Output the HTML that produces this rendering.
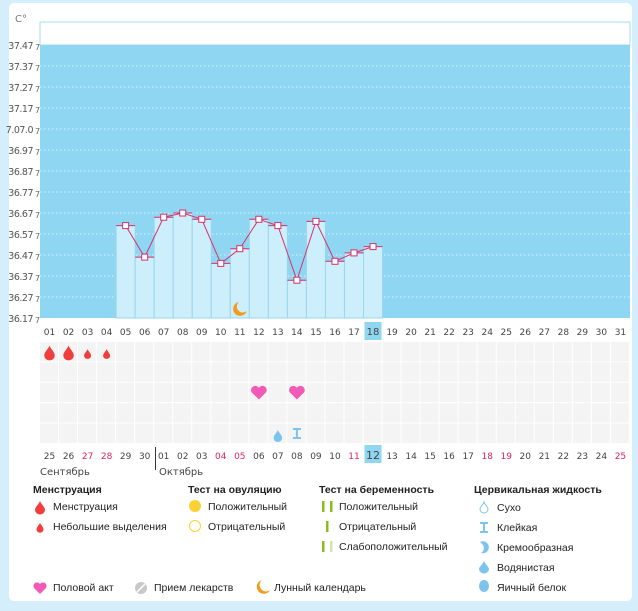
<!DOCTYPE html>
<html><head><meta charset="utf-8">
<style>
html,body{margin:0;padding:0;background:#d4effb;}
body{width:638px;height:606px;overflow:hidden;font-family:"Liberation Sans","DejaVu Sans",sans-serif;}
svg text{font-family:"DejaVu Sans","Liberation Sans",sans-serif;}
#legend text{font-family:"Liberation Sans","DejaVu Sans",sans-serif;}
</style></head>
<body>
<svg id="chart" width="638" height="606" viewBox="0 0 638 606" xmlns="http://www.w3.org/2000/svg">
<rect x="9" y="3" width="623" height="598" rx="5" fill="#ffffff"/>
<g id="g"></g>
</svg>
<script>
const days = ["01","02","03","04","05","06","07","08","09","10","11","12","13","14","15","16","17","18","19","20","21","22","23","24","25","26","27","28","29","30","31"];
const tempDays = [5,6,7,8,9,10,11,12,13,14,15,16,17,18];
const temps = [36.61,36.46,36.65,36.67,36.64,36.43,36.50,36.64,36.61,36.35,36.63,36.44,36.48,36.51];
const yTicks = [37.47,37.37,37.27,37.17,37.07,36.97,36.87,36.77,36.67,36.57,36.47,36.37,36.27,36.17];
const yTickLabels = ["37.47","37.37","37.27","37.17","7.07.0","36.97","36.87","36.77","36.67","36.57","36.47","36.37","36.27","36.17"];
const dates = ["25","26","27","28","29","30","01","02","03","04","05","06","07","08","09","10","11","12","13","14","15","16","17","18","19","20","21","22","23","24","25"];
const redDates = [2,3,9,10,16,23,24,30];
const currentDay = 18;
const bigDrops = [1,2];
const smallDrops = [3,4];
const hearts = [12,14];
const moonDays = [11];
const wateryDays = [13];
const stickyDays = [14];

const NS="http://www.w3.org/2000/svg";
const g=document.getElementById('g');
const X0=40,CW=19.03,YMIN=36.17,YMAX=37.47,YB=318,YT=45;
const xC=d=>X0+CW*(d-0.5);
const y=v=>YB-(v-YMIN)/(YMAX-YMIN)*(YB-YT);
function mk(t,a,p){const e=document.createElementNS(NS,t);for(const k in a)e.setAttribute(k,a[k]);(p||g).appendChild(e);return e;}

let e=mk('rect',{x:X0,y:22,width:590,height:23,fill:'#fff',stroke:'#a6dcf2'});


e=mk('rect',{x:X0,y:YT,width:590,height:YB-YT,fill:'#8fd6f2'});


e=mk('text',{x:15,y:22,'font-size':10,fill:'#777'});e.textContent='C°';


yTicks.forEach((v,i)=>{
  if(i>0&&i<yTicks.length-1){const l=mk('line',{x1:X0,x2:630,y1:y(v),y2:y(v),stroke:'#d6f1fb','stroke-dasharray':'1.5,2.5','stroke-width':1});
  
  }
  const t=mk('text',{x:33,y:y(v)+4,'font-size':9.5,fill:'#555','text-anchor':'end','letter-spacing':'-0.5'});t.textContent=yTickLabels[i];
  
  
  const s=mk('text',{x:35,y:y(v)+5,'font-size':8,fill:'#666'});s.textContent='7';
  
  
});
tempDays.forEach((d,i)=>{
  const b=mk('rect',{x:X0+CW*(d-1),y:y(temps[i]),width:CW,height:YB-y(temps[i]),fill:'#cdeefb',stroke:'#99d6ef','stroke-width':1});
  
  
});
const pts=tempDays.map((d,i)=>xC(d)+','+y(temps[i])).join(' ');
e=mk('polyline',{points:pts,fill:'none',stroke:'#d6336c','stroke-width':1});


tempDays.forEach((d,i)=>{
  const h=mk('line',{x1:X0+CW*(d-1),x2:X0+CW*d,y1:y(temps[i]),y2:y(temps[i]),stroke:'#d6336c','stroke-width':1});
  
  
  const m=mk('rect',{x:xC(d)-3,y:y(temps[i])-3,width:6,height:6,fill:'#fff',stroke:'#d6336c','stroke-width':1});
  
  
});
moonDays.forEach(d=>{
  const m=mk('path',{d:`M${xC(d)-1},${302} a7,7 0 1 0 8,9 a6,6 0 0 1 -8,-9z`,fill:'#f39a1b'});
  
  
});
days.forEach((s,i)=>{
  const d=i+1;
  if(d===currentDay){const r=mk('rect',{x:X0+CW*i+1,y:322,width:CW-2,height:18,fill:'#8fd6f2'});
    
    }
  const t=mk('text',{x:xC(d),y:335,'font-size':d===currentDay?10:9,fill:'#444','text-anchor':'middle'});t.textContent=s;
  
  
});
for(let r=0;r<5;r++)for(let c=0;c<31;c++){
  const cell=mk('rect',{x:X0+CW*c,y:342+r*20.4,width:CW-1,height:19.4,fill:'#f4f4f4'});
  
  
}
function drop(cx,cy,s,col,name){
  const p=mk('path',{d:`M${cx},${cy-7*s} C${cx+1*s},${cy-4*s} ${cx+5*s},${cy-1*s} ${cx+5*s},${cy+2.5*s} A${5*s},${4.5*s} 0 0 1 ${cx-5*s},${cy+2.5*s} C${cx-5*s},${cy-1*s} ${cx-1*s},${cy-4*s} ${cx},${cy-7*s}z`,fill:col});
  
  
}
bigDrops.forEach(d=>drop(xC(d),353,1.05,'#f03e3e','menstruation-drop'));
smallDrops.forEach(d=>drop(xC(d),354,0.7,'#f03e3e','spotting-drop'));
function heart(cx,cy,s,col,name){
  const p=mk('path',{d:`M${cx},${cy+5*s} L${cx-5.5*s},${cy-0.5*s} A${3*s},${3*s} 0 0 1 ${cx},${cy-4*s} A${3*s},${3*s} 0 0 1 ${cx+5.5*s},${cy-0.5*s}z`,fill:col});
  
  
}
hearts.forEach(d=>heart(xC(d),393,1.3,'#f25bb5','intercourse-heart'));
wateryDays.forEach(d=>drop(xC(d),436,0.85,'#7cc4ec','watery-fluid-icon'));
stickyDays.forEach(d=>{
  const cx=xC(d);
  const p=mk('path',{d:`M${cx-4},428 h8 v2 h-3 v7 h3 v2 h-8 v-2 h3 v-7 h-3z`,fill:'#7cc4ec'});
  
  
});
dates.forEach((s,i)=>{
  const d=i+1;
  if(d===currentDay){const r=mk('rect',{x:X0+CW*i+1,y:445,width:CW-2,height:18,fill:'#8fd6f2'});
    
    }
  const t=mk('text',{x:xC(d),y:459,'font-size':d===currentDay?11:9,fill:redDates.includes(i)?'#e0245e':'#444','text-anchor':'middle'});t.textContent=s;
  
  
});
e=mk('line',{x1:155.5,x2:155.5,y1:447,y2:470,stroke:'#333'});


e=mk('text',{x:40,y:475,'font-size':10,fill:'#444'});e.textContent='Сентябрь';


e=mk('text',{x:159,y:475,'font-size':10,fill:'#444'});e.textContent='Октябрь';


</script>
<svg id="legend" style="position:absolute;left:0;top:0" width="638" height="606">
<g font-size="10.5" fill="#222">
<text x="33" y="493" font-weight="bold">Менструация</text>
<text x="188" y="493" font-weight="bold">Тест на овуляцию</text>
<text x="319" y="493" font-weight="bold">Тест на беременность</text>
<text x="474" y="493" font-weight="bold">Цервикальная жидкость</text>
<path d="M40,501 C41,504 45,507 45,510 A5,4.5 0 0 1 35,510 C35,507 39,504 40,501z" fill="#f03e3e"/>
<text x="53" y="510">Менструация</text>
<path d="M40,523 C41,525 43.5,527 43.5,529.5 A3.5,3.2 0 0 1 36.5,529.5 C36.5,527 39,525 40,523z" fill="#f03e3e"/>
<text x="53" y="530">Небольшие выделения</text>
<circle cx="195" cy="506" r="6" fill="#fcd232"/>
<text x="208" y="510">Положительный</text>
<circle cx="195" cy="526" r="5.5" fill="none" stroke="#fcd232"/>
<text x="208" y="530">Отрицательный</text>
<rect x="322" y="501" width="2.5" height="11" fill="#8bbd1e"/><rect x="330" y="501" width="2.5" height="11" fill="#8bbd1e"/>
<text x="339" y="510">Положительный</text>
<rect x="326" y="521" width="2.5" height="11" fill="#8bbd1e"/>
<text x="339" y="530">Отрицательный</text>
<rect x="322" y="541" width="2.5" height="11" fill="#8bbd1e"/><rect x="330" y="541" width="2.5" height="11" fill="#d3e6a6"/>
<text x="339" y="550">Слабоположительный</text>
<path d="M484,502 C485,505 488,507 488,509 A4,4 0 0 1 480,509 C480,507 483,505 484,502z" fill="none" stroke="#7cc4ec"/>
<text x="497" y="511">Сухо</text>
<path d="M480,522 h8 v2 h-3 v7 h3 v2 h-8 v-2 h3 v-7 h-3z" fill="#7cc4ec"/>
<text x="497" y="531">Клейкая</text>
<path d="M480,542 A6,6 0 1 1 481,553 C485,551 485,545 480,542z" fill="#7cc4ec"/>
<text x="497" y="551">Кремообразная</text>
<path d="M484,561 C485,564 489,567 489,569 A5,4.5 0 0 1 479,569 C479,567 483,564 484,561z" fill="#7cc4ec"/>
<text x="497" y="571">Водянистая</text>
<ellipse cx="484" cy="586" rx="5" ry="6" fill="#7cc4ec"/>
<text x="497" y="591">Яичный белок</text>
<path d="M40,594 L34,588 A3.3,3.3 0 0 1 40,584 A3.3,3.3 0 0 1 46,588z" fill="#f25bb5"/>
<text x="53" y="591">Половой акт</text>
<circle cx="141" cy="588" r="6" fill="#c8c8c8"/>
<line x1="137" y1="592" x2="145" y2="584" stroke="#fff" stroke-width="1.5"/>
<text x="154" y="591">Прием лекарств</text>
<path d="M262,580 a7,7 0 1 0 8,10 a6,6 0 0 1 -8,-10z" fill="#f39a1b"/>
<text x="274" y="591">Лунный календарь</text>
</g>
</svg>
</body></html>
